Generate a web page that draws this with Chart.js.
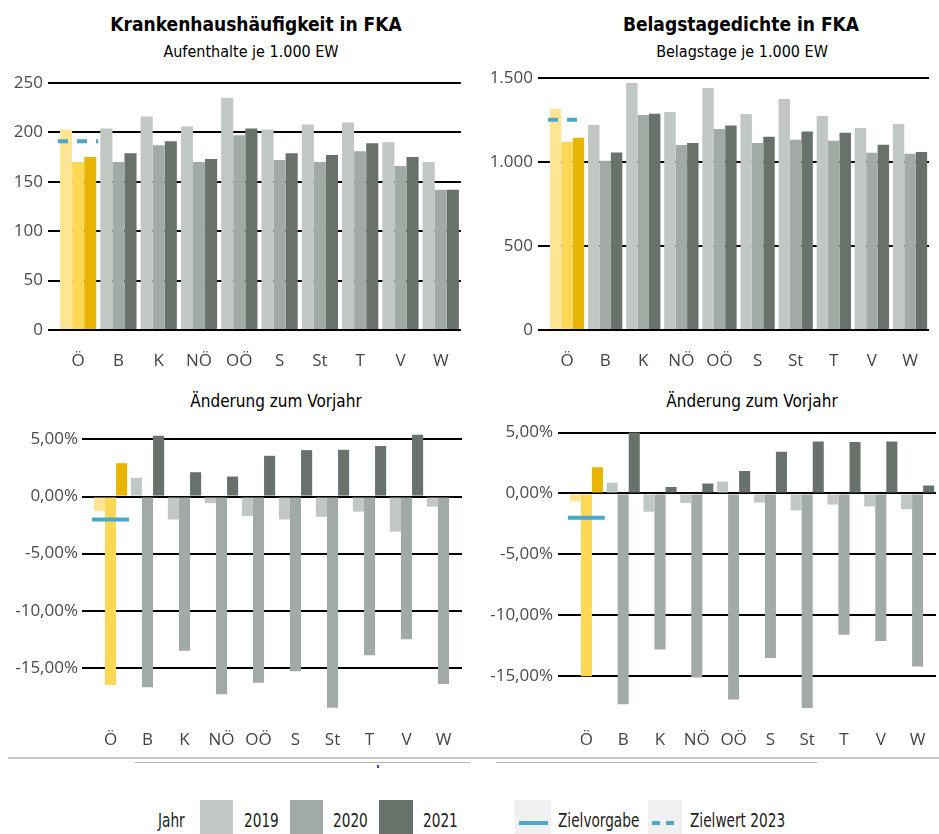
<!DOCTYPE html>
<html lang="de">
<head>
  <meta charset="UTF-8">
  <title>Krankenhaushäufigkeit und Belagstagedichte in FKA</title>
  <script src="https://cdn.jsdelivr.net/npm/chart.js"></script>
  <style>
    body { margin: 0; width: 939px; height: 834px; position: relative; overflow: hidden; background: #fff;
           font-family: "DejaVu Sans Condensed", "DejaVu Sans", sans-serif; color: #000; }
    canvas { position: absolute; }
    .t { position: absolute; white-space: nowrap; transform: translateX(-50%); }
    .h1 { font-weight: bold; font-size: 19px; }
    .h2 { font-size: 16px; }
    .h3 { font-size: 17px; }
    .abs { position: absolute; }
    .leg { position: absolute; top: 809px; font-family: "DejaVu Sans Condensed", sans-serif;
           font-size: 19px; color: #222; white-space: nowrap; transform: scaleX(0.8); transform-origin: 0 0; }
  </style>
</head>
<body>
  <div class="t h1" style="left:256px; top:13px">Krankenhaushäufigkeit in FKA</div>
  <div class="t h2" style="left:251px; top:42px">Aufenthalte je 1.000 EW</div>
  <div class="t h1" style="left:741px; top:13px">Belagstagedichte in FKA</div>
  <div class="t h2" style="left:742px; top:42px">Belagstage je 1.000 EW</div>
  <div class="t h3" style="left:276px; top:391px">Änderung zum Vorjahr</div>
  <div class="t h3" style="left:752px; top:391px">Änderung zum Vorjahr</div>

  <canvas id="c1" width="470" height="320" style="left:0; top:60px"></canvas>
  <canvas id="c2" width="469" height="320" style="left:470px; top:60px"></canvas>
  <canvas id="c3" width="470" height="345" style="left:0; top:410px"></canvas>
  <canvas id="c4" width="469" height="345" style="left:470px; top:410px"></canvas>

  <!-- Trennlinien unten -->
  <div class="abs" style="left:8px; top:757px; width:931px; height:2px; background:#cacaca"></div>
  <div class="abs" style="left:135px; top:762px; width:336px; height:1px; background:#b8b8b8"></div>
  <div class="abs" style="left:496px; top:762px; width:321px; height:1px; background:#b8b8b8"></div>
  <div class="abs" style="left:377px; top:765px; width:2px; height:3px; background:#3a3aff"></div>

  <!-- Legende -->
  <div class="leg" style="left:158px">Jahr</div>
  <div class="abs" id="sw0" style="left:200px; top:800px; width:33px; height:34px"></div>
  <div class="leg" style="left:244px">2019</div>
  <div class="abs" id="sw1" style="left:290px; top:800px; width:33px; height:34px"></div>
  <div class="leg" style="left:333px">2020</div>
  <div class="abs" id="sw2" style="left:379px; top:800px; width:34px; height:34px"></div>
  <div class="leg" style="left:423px">2021</div>

  <div class="abs" style="left:515px; top:800px; width:36px; height:34px; background:#f0f0f0"></div>
  <div class="abs zb" style="left:519px; top:821px; width:29px; height:4px"></div>
  <div class="leg" style="left:558px">Zielvorgabe</div>
  <div class="abs" style="left:648px; top:800px; width:34px; height:34px; background:#f0f0f0"></div>
  <div class="abs zb" style="left:652px; top:821px; width:8px; height:4px"></div>
  <div class="abs zb" style="left:666px; top:821px; width:8px; height:4px"></div>
  <div class="leg" style="left:690px">Zielwert 2023</div>

  <script>
    const regionen = ['Ö', 'B', 'K', 'NÖ', 'OÖ', 'S', 'St', 'T', 'V', 'W'];
    const jahre = ['2019', '2020', '2021'];

    // Aufenthalte je 1.000 EW
    const aufenthalte2019 = [203, 204, 216, 206, 235, 203, 208, 210, 190, 170];
    const aufenthalte2020 = [170, 170, 187, 170, 197, 172, 170, 181, 166, 142];
    const aufenthalte2021 = [175, 179, 191, 173, 204, 179, 177, 189, 175, 142];
    const aufenthalteZielwert2023 = 191;
    const aufenthalteTicks = [0, 50, 100, 150, 200, 250];

    // Belagstage je 1.000 EW
    const belagstage2019 = [1317, 1220, 1470, 1297, 1440, 1285, 1375, 1274, 1202, 1226];
    const belagstage2020 = [1120, 1007, 1280, 1101, 1196, 1113, 1132, 1127, 1055, 1049];
    const belagstage2021 = [1144, 1057, 1287, 1113, 1218, 1150, 1182, 1174, 1103, 1059];
    const belagstageZielwert2023 = 1252;
    const belagstageTicks = [0, 500, 1000, 1500];

    // Änderung zum Vorjahr in %
    const aufenthalteAenderung2019 = [-1.26, 1.64, -2.0, -0.58, -1.7, -2.0, -1.78, -1.32, -3.07, -0.88];
    const aufenthalteAenderung2020 = [-16.5, -16.7, -13.5, -17.3, -16.3, -15.3, -18.5, -13.9, -12.5, -16.4];
    const aufenthalteAenderung2021 = [2.92, 5.32, 2.13, 1.75, 3.57, 4.06, 4.09, 4.42, 5.41, 0];
    const aufenthalteZielvorgabe = -2.0;

    const belagstageAenderung2019 = [-0.66, 0.88, -1.5, -0.79, 0.99, -0.74, -1.4, -0.9, -1.07, -1.29];
    const belagstageAenderung2020 = [-15.0, -17.3, -12.8, -15.1, -16.9, -13.5, -17.6, -11.6, -12.1, -14.2];
    const belagstageAenderung2021 = [2.14, 5.0, 0.52, 0.82, 1.84, 3.42, 4.27, 4.22, 4.27, 0.66];
    const belagstageZielvorgabe = -2.0;
    const aenderungTicks = [-15, -10, -5, 0, 5];

    const grau = ['#c1c7c2', '#a2aaa5', '#68726a'];
    const gelb = ['#fee594', '#fdd856', '#e8b600'];
    const zielBlau = '#4aa8cb';

    grau.forEach((c, i) => document.getElementById('sw' + i).style.background = c);
    document.querySelectorAll('.zb').forEach(el => el.style.background = zielBlau);

    const tickFont = { family: '"Open Sans", sans-serif', size: 17 };

    // Ziel-Linie über die Breite der Kategorie Ö
    const zielPlugin = {
      id: 'ziel',
      afterDatasetsDraw(chart, args, o) {
        const x = chart.scales.x, y = chart.scales.y;
        const half = (x.getPixelForValue(1) - x.getPixelForValue(0)) / 2;
        const x0 = x.getPixelForValue(0);
        const yp = y.getPixelForValue(o.wert);
        const ctx = chart.ctx;
        ctx.save();
        ctx.strokeStyle = zielBlau;
        ctx.lineWidth = 4;
        ctx.setLineDash(o.gestrichelt ? [10, 9] : []);
        ctx.beginPath();
        ctx.moveTo(x0 - half, yp);
        ctx.lineTo(x0 + half, yp);
        ctx.stroke();
        ctx.restore();
      }
    };

    function tausender(v) {
      return String(v).replace(/\B(?=(\d{3})+(?!\d))/g, '.');
    }
    function prozent(v) {
      return v.toFixed(2).replace('.', ',') + '%';
    }

    function balken(id, reihen, o) {
      return new Chart(document.getElementById(id), {
        type: 'bar',
        data: {
          labels: regionen,
          datasets: reihen.map((werte, i) => ({
            label: jahre[i],
            data: werte,
            backgroundColor: regionen.map((r, j) => j === 0 ? gelb[i] : grau[i]),
            categoryPercentage: 0.9,
            barPercentage: 1.0,
            borderWidth: 0
          }))
        },
        options: {
          responsive: false,
          animation: false,
          layout: { padding: { top: o.top, right: o.right, left: 0, bottom: 0 } },
          plugins: {
            legend: { display: false },
            tooltip: { enabled: false },
            ziel: { wert: o.ziel, gestrichelt: o.gestrichelt }
          },
          scales: {
            x: {
              grid: { display: false, drawTicks: false },
              border: { display: false },
              ticks: { padding: o.xPad, color: '#444', font: tickFont },
              afterFit: a => { a.height = o.xHeight; }
            },
            y: {
              min: o.min, max: o.max,
              afterBuildTicks: a => { a.ticks = o.ticks.map(v => ({ value: v })); },
              ticks: { padding: o.yPad, color: '#4a4a4a', font: tickFont, callback: o.fmt },
              grid: { color: '#000', lineWidth: 2, tickLength: 10 },
              border: { display: false },
              afterFit: a => { a.width = o.yWidth; }
            }
          }
        },
        plugins: [zielPlugin]
      });
    }

    balken('c1', [aufenthalte2019, aufenthalte2020, aufenthalte2021], {
      top: 23, right: 8, xHeight: 50, yWidth: 58, xPad: 21, yPad: 5,
      min: 0, max: 250, ticks: aufenthalteTicks, fmt: v => v,
      ziel: aufenthalteZielwert2023, gestrichelt: true
    });
    balken('c2', [belagstage2019, belagstage2020, belagstage2021], {
      top: 18, right: 3, xHeight: 50, yWidth: 78, xPad: 21, yPad: 5,
      min: 0, max: 1500, ticks: belagstageTicks, fmt: tausender,
      ziel: belagstageZielwert2023, gestrichelt: true
    });
    balken('c3', [aufenthalteAenderung2019, aufenthalteAenderung2020, aufenthalteAenderung2021], {
      top: 18, right: 8, xHeight: 30, yWidth: 92, xPad: 5, yPad: 4,
      min: -20, max: 6, ticks: aenderungTicks, fmt: prozent,
      ziel: aufenthalteZielvorgabe, gestrichelt: false
    });
    balken('c4', [belagstageAenderung2019, belagstageAenderung2020, belagstageAenderung2021], {
      top: 15, right: 3, xHeight: 30, yWidth: 98, xPad: 5, yPad: 5,
      min: -19, max: 5.6, ticks: aenderungTicks, fmt: prozent,
      ziel: belagstageZielvorgabe, gestrichelt: false
    });
  </script>
</body>
</html>
